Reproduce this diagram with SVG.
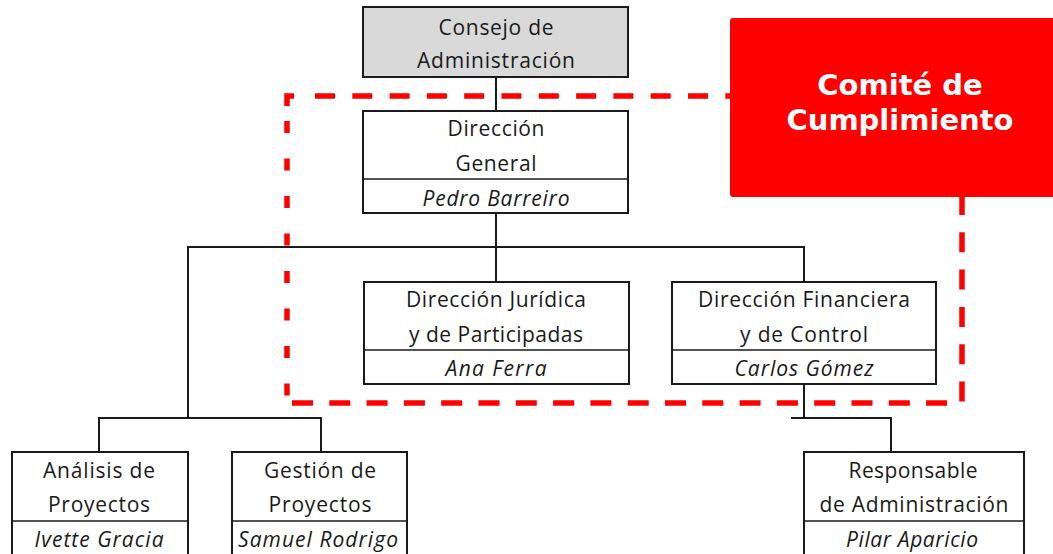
<svg xmlns="http://www.w3.org/2000/svg" width="1053" height="554" viewBox="0 0 1053 554">
<style>
.box{fill:#fff;stroke:#1a1a1a;stroke-width:2}
.gray{fill:#d9d9d9}
.div{stroke:#1a1a1a;stroke-width:1.5}
.t{font-family:"Open Sans","Liberation Sans",sans-serif;font-size:21px;fill:#1a1a1a;text-anchor:middle}
.i{font-style:italic}
.con{stroke:#1a1a1a;stroke-width:2;fill:none}
.red{stroke:#ff0000;stroke-width:5.5;fill:none}
.ct{font-family:"DejaVu Sans",Verdana,sans-serif;font-weight:bold;font-size:29px;fill:#fff;text-anchor:middle}
</style>
<rect width="1053" height="554" fill="#fff"/>
<g id="connectors">
<line class="con" x1="496" y1="77" x2="496" y2="111"/>
<line class="con" x1="496" y1="213" x2="496" y2="282"/>
<polyline class="con" points="188,418 188,247 804,247 804,282"/>
<polyline class="con" points="99,452 99,418 321,418 321,452"/>
<line class="con" x1="804" y1="384" x2="804" y2="418"/>
<polyline class="con" points="791,418 891,418 891,452"/>
</g>
<g id="consejo">
<rect class="box gray" x="363" y="7" width="265" height="70"/>
<text class="t" x="496" y="35" textLength="115" lengthAdjust="spacing">Consejo de</text>
<text class="t" x="496" y="68" textLength="158" lengthAdjust="spacing">Administración</text>
</g>
<g id="direccion-general">
<rect class="box" x="363" y="111" width="265" height="102"/>
<line class="div" x1="363" y1="179" x2="628" y2="179"/>
<text class="t" x="496" y="136" textLength="97" lengthAdjust="spacing">Dirección</text>
<text class="t" x="496" y="171" textLength="81" lengthAdjust="spacing">General</text>
<text class="t i" x="496" y="206" textLength="147" lengthAdjust="spacing">Pedro Barreiro</text>
</g>
<g id="direccion-juridica">
<rect class="box" x="364" y="282" width="265" height="102"/>
<line class="div" x1="364" y1="350" x2="629" y2="350"/>
<text class="t" x="496" y="307" textLength="180" lengthAdjust="spacing">Dirección Jurídica</text>
<text class="t" x="496" y="342" textLength="174" lengthAdjust="spacing">y de Participadas</text>
<text class="t i" x="496" y="376" textLength="101" lengthAdjust="spacing">Ana Ferra</text>
</g>
<g id="direccion-financiera">
<rect class="box" x="672" y="282" width="264" height="102"/>
<line class="div" x1="672" y1="350" x2="936" y2="350"/>
<text class="t" x="804" y="307" textLength="212" lengthAdjust="spacing">Dirección Financiera</text>
<text class="t" x="804" y="342" textLength="128" lengthAdjust="spacing">y de Control</text>
<text class="t i" x="804" y="376" textLength="139" lengthAdjust="spacing">Carlos Gómez</text>
</g>
<g id="analisis">
<rect class="box" x="12" y="452" width="176" height="110"/>
<line class="div" x1="12" y1="521" x2="188" y2="521"/>
<text class="t" x="99" y="478" textLength="112" lengthAdjust="spacing">Análisis de</text>
<text class="t" x="99" y="512" textLength="102" lengthAdjust="spacing">Proyectos</text>
<text class="t i" x="99" y="547" textLength="129" lengthAdjust="spacing">Ivette Gracia</text>
</g>
<g id="gestion">
<rect class="box" x="232" y="452" width="175" height="110"/>
<line class="div" x1="232" y1="521" x2="407" y2="521"/>
<text class="t" x="320" y="478" textLength="112" lengthAdjust="spacing">Gestión de</text>
<text class="t" x="320" y="512" textLength="103" lengthAdjust="spacing">Proyectos</text>
<text class="t i" x="318" y="547" textLength="160" lengthAdjust="spacing">Samuel Rodrigo</text>
</g>
<g id="responsable">
<rect class="box" x="804" y="452" width="220" height="110"/>
<line class="div" x1="804" y1="521" x2="1024" y2="521"/>
<text class="t" x="913" y="478" textLength="129" lengthAdjust="spacing">Responsable</text>
<text class="t" x="914" y="512" textLength="189" lengthAdjust="spacing">de Administración</text>
<text class="t i" x="912" y="547" textLength="132" lengthAdjust="spacing">Pilar Aparicio</text>
</g>
<g id="comite-frame">
<path class="red" d="M287,106 V96 H294"/>
<line class="red" x1="315" y1="96" x2="735" y2="96" stroke-dasharray="20 17.3"/>
<line class="red" x1="287" y1="121" x2="287" y2="403" stroke-dasharray="12 25.5"/>
<line class="red" x1="292" y1="403" x2="962" y2="403" stroke-dasharray="21 16.3"/>
<line class="red" x1="962" y1="195" x2="962" y2="403" stroke-dasharray="20 17.3"/>
</g>
<g id="comite">
<rect x="730" y="18" width="330" height="179" rx="3" fill="#ff0000"/>
<text class="ct" x="900" y="95">Comité de</text>
<text class="ct" x="900" y="130">Cumplimiento</text>
</g>
</svg>
